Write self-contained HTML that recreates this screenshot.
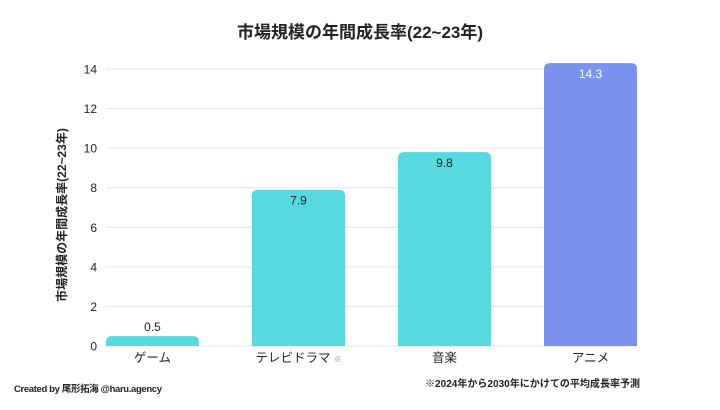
<!DOCTYPE html>
<html><head><meta charset="utf-8"><style>
body{margin:0;background:#fff;font-family:"Liberation Sans","Noto Sans CJK JP",sans-serif;}
svg text{font-family:"Liberation Sans","Noto Sans CJK JP",sans-serif;}
</style></head><body>
<svg id="c" width="720" height="405">
<text x="360" y="38" text-anchor="middle" font-size="17" font-weight="bold" fill="#222">市場規模の年間成長率(22~23年)</text>
<text transform="translate(66,215) rotate(-90)" text-anchor="middle" font-size="12" font-weight="bold" fill="#222">市場規模の年間成長率(22~23年)</text>
<g id="grid"></g><g id="bars"></g>
<text x="14" y="392" font-size="9.5" font-weight="bold" fill="#222" textLength="148">Created by 尾形拓海 @haru.agency</text>
<text x="425" y="387" font-size="10" font-weight="bold" fill="#222" textLength="215">※2024年から2030年にかけての平均成長率予測</text>
</svg>
<script>
const categories=["ゲーム","テレビドラマ","音楽","アニメ"];
const values=[0.5,7.9,9.8,14.3];
const colors=["#57d9df","#57d9df","#57d9df","#7b93ee"];
const yTicks=[0,2,4,6,8,10,12,14];
const NS="http://www.w3.org/2000/svg";
const y=v=>346-v*(277/14);
const x=i=>106+i*146;
const bw=93;
function mk(t,a,p){const e=document.createElementNS(NS,t);for(const k in a)e.setAttribute(k,a[k]);p.appendChild(e);return e;}
const g=document.getElementById('grid'),b=document.getElementById('bars');
yTicks.forEach(t=>{
 const l=mk('line',{x1:106,x2:637,y1:y(t),y2:y(t),stroke:'#e6e6e6','stroke-width':1},g);
 
 
 const tx=mk('text',{x:97,y:y(t)+4.5,'text-anchor':'end','font-size':12,fill:'#222'},g);
 tx.textContent=t;
 
 
});
values.forEach((v,i)=>{
 const top=y(v),h=346-top,r=Math.min(6,h);
 const d=`M${x(i)},346 V${top+r} Q${x(i)},${top} ${x(i)+r},${top} H${x(i)+bw-r} Q${x(i)+bw},${top} ${x(i)+bw},${top+r} V346 Z`;
 const p=mk('path',{d:d,fill:colors[i]},b);
 
 
 const inside=v>2;
 const lt=mk('text',{x:x(i)+bw/2,y:inside?top+15:top-5,'text-anchor':'middle','font-size':12,fill:i==3?'#fff':'#222'},b);
 lt.textContent=v;
 
 
 const ct=mk('text',{x:x(i)+bw/2,y:362,'text-anchor':'middle','font-size':12.5,fill:'#222'},b);
 ct.textContent=categories[i];
 
 
 if(i==1){const s=mk('tspan',{'font-size':8,fill:'#888',dx:3},ct);s.textContent='※';}
});
</script>
</body></html>
